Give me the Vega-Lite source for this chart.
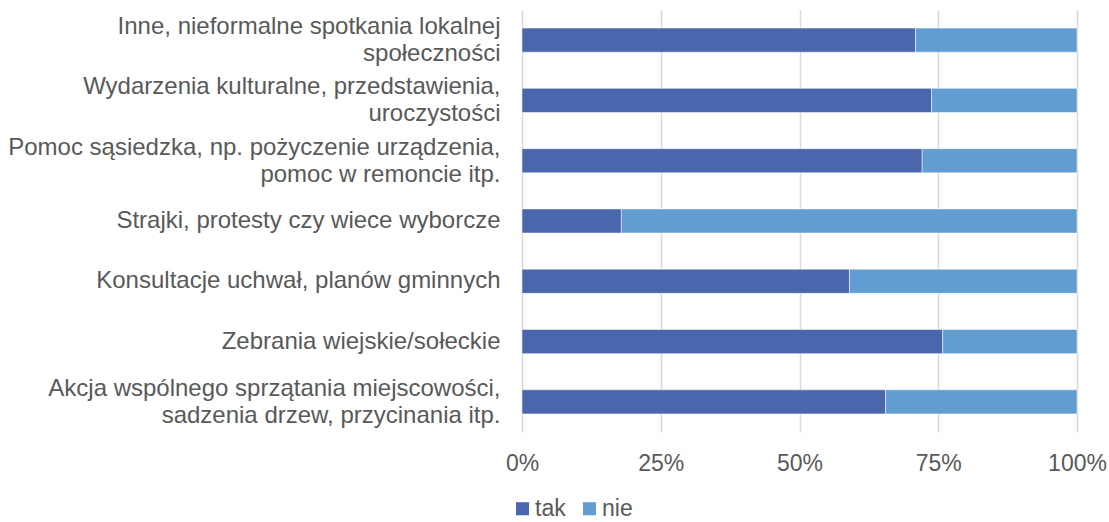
{
  "$schema": "https://vega.github.io/schema/vega-lite/v6.json",
  "autosize": "none",
  "width": 555,
  "height": 422,
  "padding": {"left": 522, "top": 10, "right": 32, "bottom": 90},
  "background": "white",
  "data": {"values": [
    {"kategoria": "Inne, nieformalne spotkania lokalnej|społeczności", "odp": "tak", "kolej": 1, "wartosc": 0.709},
    {"kategoria": "Inne, nieformalne spotkania lokalnej|społeczności", "odp": "nie", "kolej": 2, "wartosc": 0.291},
    {"kategoria": "Wydarzenia kulturalne, przedstawienia,|uroczystości", "odp": "tak", "kolej": 1, "wartosc": 0.738},
    {"kategoria": "Wydarzenia kulturalne, przedstawienia,|uroczystości", "odp": "nie", "kolej": 2, "wartosc": 0.262},
    {"kategoria": "Pomoc sąsiedzka, np. pożyczenie urządzenia,|pomoc w remoncie itp.", "odp": "tak", "kolej": 1, "wartosc": 0.721},
    {"kategoria": "Pomoc sąsiedzka, np. pożyczenie urządzenia,|pomoc w remoncie itp.", "odp": "nie", "kolej": 2, "wartosc": 0.279},
    {"kategoria": "Strajki, protesty czy wiece wyborcze", "odp": "tak", "kolej": 1, "wartosc": 0.179},
    {"kategoria": "Strajki, protesty czy wiece wyborcze", "odp": "nie", "kolej": 2, "wartosc": 0.821},
    {"kategoria": "Konsultacje uchwał, planów gminnych", "odp": "tak", "kolej": 1, "wartosc": 0.590},
    {"kategoria": "Konsultacje uchwał, planów gminnych", "odp": "nie", "kolej": 2, "wartosc": 0.410},
    {"kategoria": "Zebrania wiejskie/sołeckie", "odp": "tak", "kolej": 1, "wartosc": 0.758},
    {"kategoria": "Zebrania wiejskie/sołeckie", "odp": "nie", "kolej": 2, "wartosc": 0.242},
    {"kategoria": "Akcja wspólnego sprzątania miejscowości,|sadzenia drzew, przycinania itp.", "odp": "tak", "kolej": 1, "wartosc": 0.655},
    {"kategoria": "Akcja wspólnego sprzątania miejscowości,|sadzenia drzew, przycinania itp.", "odp": "nie", "kolej": 2, "wartosc": 0.345}
  ]},
  "mark": {"type": "bar", "stroke": "white", "strokeWidth": 0.5},
  "encoding": {
    "y": {
      "field": "kategoria",
      "type": "nominal",
      "sort": null,
      "scale": {"paddingInner": 0.6, "paddingOuter": 0.3},
      "axis": {
        "title": null,
        "domain": false,
        "ticks": false,
        "labelExpr": "split(datum.value, '|')",
        "labelFont": "Liberation Sans",
        "labelFontSize": 24,
        "labelColor": "#595959",
        "labelPadding": 22,
        "labelLimit": 600,
        "labelLineHeight": 27,
        "labelOffset": {"condition": {"test": "indexof(datum.value, '|') >= 0", "value": -13}, "value": 0}
      }
    },
    "x": {
      "field": "wartosc",
      "type": "quantitative",
      "stack": "zero",
      "scale": {"domain": [0, 1], "nice": false},
      "axis": {
        "title": null,
        "values": [0, 0.25, 0.5, 0.75, 1],
        "format": ".0%",
        "domain": false,
        "ticks": false,
        "grid": true,
        "gridColor": "#D9D9D9",
        "gridWidth": 1.5,
        "labelFont": "Liberation Sans",
        "labelFontSize": 23,
        "labelColor": "#595959",
        "labelPadding": 20,
        "labelFlush": false
      }
    },
    "color": {
      "field": "odp",
      "type": "nominal",
      "scale": {"domain": ["tak", "nie"], "range": ["#4A66AC", "#629DD1"]},
      "legend": {
        "title": null,
        "orient": "none",
        "direction": "horizontal",
        "legendX": -11,
        "legendY": 487,
        "symbolType": "square",
        "symbolSize": 170,
        "symbolStrokeWidth": 0,
        "labelFont": "Liberation Sans",
        "labelFontSize": 23,
        "labelColor": "#595959",
        "labelOffset": 1,
        "columnPadding": 12
      }
    },
    "order": {"field": "kolej", "type": "quantitative"}
  },
  "config": {"view": {"stroke": null}}
}
